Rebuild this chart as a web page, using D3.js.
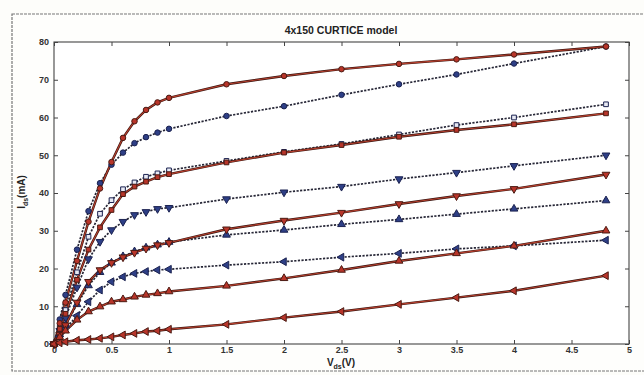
<!DOCTYPE html>
<html><head><meta charset="utf-8">
<script src="https://cdn.jsdelivr.net/npm/d3@7"></script>
<style>
html,body{margin:0;padding:0;background:#fdfdfa;}
svg{display:block;font-family:"Liberation Sans",Arial,sans-serif;}
</style></head>
<body><svg id="c" width="644" height="375"></svg>
<script>
const title = "4x150 CURTICE model";
const vds = [0,0.05,0.1,0.2,0.3,0.4,0.5,0.6,0.7,0.8,0.9,1,1.5,2,2.5,3,3.5,4,4.8];
const xTicks = [0,0.5,1,1.5,2,2.5,3,3.5,4,4.5,5];
const yTicks = [0,10,20,30,40,50,60,70,80];

// measured (blue dotted)
const measCircle = [0,6.5,13,25,35.2,42.6,47.5,50.7,53.2,54.8,56,57,60.4,63,66,68.8,71.4,74.3,78.8];
const measSquare = [0,4.5,9,19,28.4,34.5,38.1,41,42.8,44.3,45.2,46,48.5,50.9,53,55.5,58,60,63.5];
const measDown   = [0,3.5,7,15,22.5,27.1,30.2,32.4,34.2,35,35.8,36.1,38.4,40.2,41.7,43.7,45.4,47.2,50];
const measUp     = [0,2.5,5,10.5,15.5,19,21.5,23.2,24.5,25.5,26.3,27,28.9,30.2,31.7,33,34.4,35.8,38];
const measLeft   = [0,2,4,7.5,11.2,14.3,16.5,17.8,18.7,19.2,19.6,19.8,20.9,21.8,23,24,25.2,26,27.5];
// model (red solid)
const modCircle = [0,5.5,11,22,32.4,41.2,48.2,54.6,59,62,64,65.2,68.8,71,72.8,74.2,75.4,76.7,78.8];
const modSquare = [0,4,8,17,25,30.9,35.5,39.7,41.7,43,44.2,45,48.1,50.7,52.7,54.9,56.7,58.2,61.1];
const modDown   = [0,2.5,5,11,16.5,19.6,21.5,23,24.2,25.3,26.2,26.8,30.4,32.7,34.8,37.1,39.2,41.1,44.9];
const modUp     = [0,1.8,3.5,6.4,8.6,9.9,11.2,11.8,12.5,13,13.4,13.9,15.4,17.4,19.6,22,24,26,30];
const modLeft   = [0,0.3,0.6,1.0,1.2,1.5,1.9,2.4,2.8,3.3,3.5,3.9,5.2,7,8.6,10.5,12.3,14.1,18.1];

const series = [
  {v:measCircle, kind:"meas", shape:"circle"},
  {v:measSquare, kind:"meas", shape:"square"},
  {v:measDown,   kind:"meas", shape:"down"},
  {v:measUp,     kind:"meas", shape:"up"},
  {v:measLeft,   kind:"meas", shape:"left"},
  {v:modCircle,  kind:"mod",  shape:"circle"},
  {v:modSquare,  kind:"mod",  shape:"square"},
  {v:modDown,    kind:"mod",  shape:"down"},
  {v:modUp,      kind:"mod",  shape:"up"},
  {v:modLeft,    kind:"mod",  shape:"left"}
];

const svg = d3.select("#c");
const L=54, R=629, T=42, B=344;
const x = d3.scaleLinear().domain([0,5]).range([L,R]);
const y = d3.scaleLinear().domain([0,80]).range([B,T]);

// outer frame
svg.append("rect").attr("x",12).attr("y",14).attr("width",640).attr("height",357)
  .attr("fill","#fefefc").attr("stroke","#777").attr("stroke-width",1.2).attr("stroke-dasharray","3,1");
svg.append("rect").attr("x",L).attr("y",T).attr("width",R-L).attr("height",B-T).attr("fill","#fff");

// axes
const tickStyle = g => {
  g.select(".domain").remove();
  g.selectAll(".tick line").attr("stroke","#444");
  g.selectAll(".tick text").attr("fill","#333").attr("font-size",9).attr("font-weight","bold");
};
svg.append("g").attr("transform",`translate(0,${B})`)
  .call(d3.axisBottom(x).tickValues(xTicks).tickFormat(d3.format("")).tickSize(-4).tickPadding(3)).call(tickStyle);
svg.append("g").attr("transform",`translate(0,${T})`)
  .call(d3.axisTop(x).tickValues(xTicks).tickFormat("").tickSize(-4)).call(tickStyle);
svg.append("g").attr("transform",`translate(${L},0)`)
  .call(d3.axisLeft(y).tickValues(yTicks).tickSize(-4).tickPadding(5)).call(tickStyle);
svg.append("g").attr("transform",`translate(${R},0)`)
  .call(d3.axisRight(y).tickValues(yTicks).tickFormat("").tickSize(-4)).call(tickStyle);
svg.append("rect").attr("x",L).attr("y",T).attr("width",R-L).attr("height",B-T)
  .attr("fill","none").attr("stroke","#444").attr("stroke-width",1.1);

const line = d3.line().x((d,i)=>x(vds[i])).y(d=>y(d));
const plot = svg.append("g");
// dotted measured first, then red model
series.filter(s=>s.kind==="meas").forEach(s=>{
  plot.append("path").attr("d",line(s.v)).attr("fill","none")
    .attr("stroke","#262636").attr("stroke-width",1.7).attr("stroke-dasharray","2.2,1.4");
});
series.filter(s=>s.kind==="mod").forEach(s=>{
  plot.append("path").attr("d",line(s.v)).attr("fill","none")
    .attr("stroke","#3a1510").attr("stroke-width",2.4);
  plot.append("path").attr("d",line(s.v)).attr("fill","none")
    .attr("stroke","#b8402e").attr("stroke-width",1.1);
});

const sym = {
  circle:{t:d3.symbolCircle,s:24,r:0},
  square:{t:d3.symbolSquare,s:22,r:0},
  down:{t:d3.symbolTriangle,s:26,r:180},
  up:{t:d3.symbolTriangle,s:26,r:0},
  left:{t:d3.symbolTriangle,s:26,r:-90}
};
series.forEach(s=>{
  const m = sym[s.shape];
  const p = d3.symbol().type(m.t).size(m.s)();
  const isMeas = s.kind==="meas";
  plot.append("g").selectAll("path").data(s.v).join("path")
    .attr("d",p)
    .attr("transform",(d,i)=>`translate(${x(vds[i])},${y(d)}) rotate(${m.r})`)
    .attr("fill", isMeas ? (s.shape==="square" ? "#e8eaf4" : "#2e3f86") : "#b8352a")
    .attr("stroke", isMeas ? "#1b2250" : "#4a1a12")
    .attr("stroke-width",1);
});

// title and labels
svg.append("text").attr("x",341).attr("y",34).attr("text-anchor","middle")
  .attr("font-size",10.5).attr("font-weight","bold").attr("fill","#222").text(title);

const xl = svg.append("text").attr("x",341).attr("y",366).attr("text-anchor","middle")
  .attr("font-size",10).attr("font-weight","bold").attr("fill","#222");
xl.append("tspan").text("V");
xl.append("tspan").attr("font-size",7).attr("dy",2.5).text("ds");
xl.append("tspan").attr("dy",-2.5).text("(V)");

const yl = svg.append("text").attr("transform","translate(25,192) rotate(-90)").attr("text-anchor","middle")
  .attr("font-size",10).attr("font-weight","bold").attr("fill","#222");
yl.append("tspan").text("I");
yl.append("tspan").attr("font-size",7).attr("dy",2.5).text("ds");
yl.append("tspan").attr("dy",-2.5).text("(mA)");
</script></body></html>
